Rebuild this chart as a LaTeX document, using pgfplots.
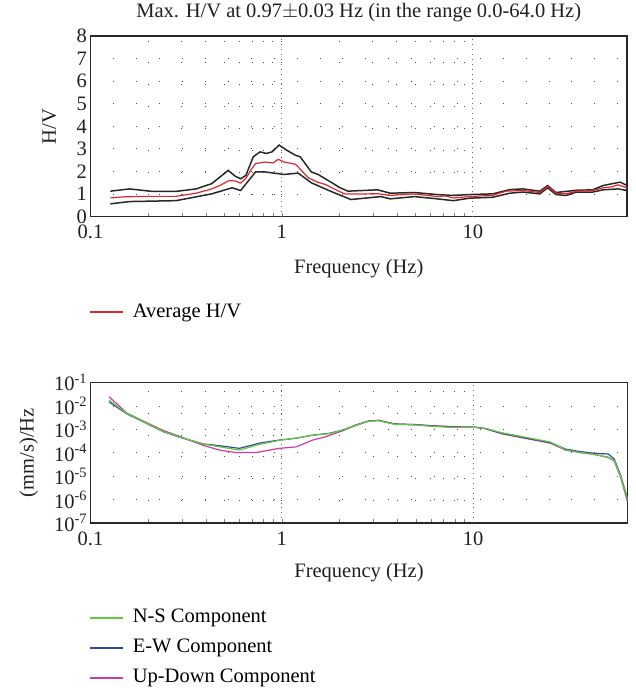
\documentclass[border=0pt]{standalone}
\usepackage{fontspec}
\setmainfont{Liberation Serif}
\usepackage{pgfplots}
\pgfplotsset{compat=1.18}
\definecolor{txt}{RGB}{35,31,32}
\definecolor{hvred}{RGB}{222,40,45}
\definecolor{hvblk}{RGB}{40,40,40}
\definecolor{nsgreen}{RGB}{100,200,60}
\definecolor{ewblue}{RGB}{45,75,160}
\definecolor{udpink}{RGB}{205,60,165}
\pgfplotsset{legend image code/.code={\draw[#1] (0pt,0pt) -- (33pt,0pt);}}
\begin{document}
\begin{tikzpicture}[font=\fontsize{20.5}{24}\selectfont]
\path (0pt,0pt) rectangle (635pt,688pt);
\begin{axis}[
  scale only axis,
  xmode=log, xmin=0.1, xmax=64,
  xtick={0.1,1,10}, xticklabels={0.1,1,10},
  tick label style={font=\fontsize{20.5}{24}\selectfont, text=txt},
  label style={font=\fontsize{20.5}{24}\selectfont, text=txt},
  axis line style={line width=1.3pt, color=hvblk},
  tick align=inside, xtick pos=left, ytick pos=left,
  major tick length=0pt, minor tick length=4pt,
  xmajorgrids=false, xminorgrids=true, ymajorgrids=true,
  minor grid style={dash pattern=on 0.9pt off 21pt, black!70, line width=0.9pt},
  major grid style={dash pattern=on 0.9pt off 22pt, black!70, line width=0.9pt},
  extra x ticks={1,10}, extra x tick labels={},
  extra x tick style={grid=major, major grid style={dash pattern=on 0.9pt off 4pt, black!60, line width=0.9pt}},
  xticklabel style={yshift=-5pt, inner xsep=1pt},
  yticklabel style={inner ysep=1pt},
  legend cell align=left,
  at={(90.5pt,471.3pt)}, anchor=south west,
  width=536.5pt, height=180.7pt,
  ymin=0, ymax=8, ytick={0,1,2,3,4,5,6,7,8}, yticklabels={0,1,2,3,4,5,6,7,8},
  title={Max. H/V at 0.97$\pm$0.03 Hz (in the range 0.0-64.0 Hz)},
  title style={at={(axis description cs:0.5,1.095)}, anchor=center, inner ysep=1pt, font=\fontsize{20.5}{24}\selectfont, text=txt},
  xlabel={Frequency (Hz)},
  xlabel style={at={(axis description cs:0.5,-0.289)}, anchor=center},
  ylabel={H/V},
  ylabel style={at={(axis description cs:-0.077,0.5)}, anchor=center},
  legend style={at={(axis description cs:-0.002,-0.527)}, anchor=west, draw=none, fill=none, inner sep=0pt,
    column sep=8pt,
    nodes={inner xsep=1pt, inner ysep=2pt, font=\fontsize{20.5}{24}\selectfont}},
]
\addplot[hvblk, line width=1.5pt, forget plot] coordinates {
(0.127,1.13) (0.16,1.23) (0.21,1.12) (0.28,1.12) (0.357,1.23) (0.43,1.46) (0.525,2.05) (0.57,1.80)
(0.61,1.68) (0.65,1.83) (0.71,2.65) (0.77,2.87) (0.83,2.80) (0.89,2.87) (0.97,3.17) (1.06,2.95)
(1.18,2.72) (1.25,2.65) (1.43,1.98) (1.55,1.87) (1.81,1.53) (2.0,1.30) (2.22,1.13) (3.17,1.19)
(3.7,1.04) (4.95,1.07) (6.5,0.98) (7.9,0.94) (9.6,0.98) (12.7,1.01) (15.6,1.20) (18.3,1.23)
(22.4,1.13) (24.6,1.38) (27.2,1.07) (34.7,1.17) (42.4,1.19) (47.9,1.38) (59,1.53) (64,1.38)};
\addplot[hvblk, line width=1.5pt, forget plot] coordinates {
(0.127,0.57) (0.16,0.67) (0.28,0.71) (0.43,1.01) (0.55,1.28) (0.61,1.16) (0.73,1.98) (0.82,1.98)
(1.03,1.87) (1.22,1.93) (1.43,1.50) (1.81,1.12) (2.3,0.76) (3.3,0.89) (3.7,0.79) (4.95,0.89)
(6.5,0.79) (7.9,0.71) (9.6,0.82) (12.7,0.86) (15.6,1.04) (18.3,1.09) (22.4,1.01) (24.6,1.28)
(27.2,0.98) (30.7,0.94) (34.7,1.09) (42.4,1.09) (47.9,1.19) (57.5,1.23) (64,1.16)};
\addplot[color=hvred, line width=1.2pt] coordinates {
(0.127,0.83) (0.15,0.88) (0.2,0.90) (0.28,0.90) (0.357,1.04) (0.43,1.23) (0.48,1.40) (0.53,1.60)
(0.57,1.58) (0.61,1.49) (0.65,1.70) (0.70,2.15) (0.73,2.35) (0.82,2.42) (0.90,2.38) (0.96,2.54)
(1.03,2.42) (1.12,2.36) (1.18,2.32) (1.22,2.20) (1.30,1.95) (1.38,1.72) (1.55,1.52) (1.70,1.42)
(1.81,1.30) (2.0,1.12) (2.14,1.01) (2.5,1.00) (3.17,1.02) (3.7,0.94) (4.3,0.98) (4.95,1.01)
(5.7,0.95) (6.5,0.89) (7.2,0.92) (7.9,0.83) (8.7,0.86) (9.6,0.89) (11,0.92) (12.7,0.94)
(14.9,1.13) (18.3,1.16) (22.4,1.07) (24.6,1.34) (27.2,1.04) (30.7,1.01) (34.7,1.13) (42.4,1.16)
(47.9,1.28) (53,1.32) (57.5,1.41) (64,1.28)};
\addlegendentry{Average H/V}
\end{axis}
\begin{axis}[
  scale only axis,
  xmode=log, xmin=0.1, xmax=64,
  xtick={0.1,1,10}, xticklabels={0.1,1,10},
  tick label style={font=\fontsize{20.5}{24}\selectfont, text=txt},
  label style={font=\fontsize{20.5}{24}\selectfont, text=txt},
  axis line style={line width=1.3pt, color=hvblk},
  tick align=inside, xtick pos=left, ytick pos=left,
  major tick length=0pt, minor tick length=4pt,
  xmajorgrids=false, xminorgrids=true, ymajorgrids=true,
  minor grid style={dash pattern=on 0.9pt off 21pt, black!70, line width=0.9pt},
  major grid style={dash pattern=on 0.9pt off 22pt, black!70, line width=0.9pt},
  extra x ticks={1,10}, extra x tick labels={},
  extra x tick style={grid=major, major grid style={dash pattern=on 0.9pt off 4pt, black!60, line width=0.9pt}},
  xticklabel style={yshift=-5pt, inner xsep=1pt},
  yticklabel style={inner ysep=1pt},
  legend cell align=left,
  reverse legend,
  at={(90.5pt,165pt)}, anchor=south west,
  width=537pt, height=140.4pt,
  ymode=log, ymin=1e-7, ymax=1e-1,
  ytick={1e-7,1e-6,1e-5,1e-4,1e-3,1e-2,1e-1},
  yticklabels={10\textsuperscript{-7},10\textsuperscript{-6},10\textsuperscript{-5},10\textsuperscript{-4},10\textsuperscript{-3},10\textsuperscript{-2},10\textsuperscript{-1}},
  yminorticks=false, yminorgrids=false,
  xlabel={Frequency (Hz)},
  xlabel style={at={(axis description cs:0.5,-0.356)}, anchor=center},
  ylabel={(mm/s)/Hz},
  ylabel style={at={(axis description cs:-0.115,0.5)}, anchor=center},
  legend style={at={(axis description cs:-0.002,-0.89)}, anchor=west, draw=none, fill=none, inner sep=0pt,
    row sep=11pt, column sep=8pt,
    nodes={inner xsep=1pt, inner ysep=0pt, text height=14pt, text depth=5pt, font=\fontsize{20.5}{24}\selectfont}},
]
\addplot[color=udpink, line width=1.2pt] coordinates {
(0.125,2.5e-2) (0.155,5e-3) (0.181,2.7e-3) (0.24,9e-4) (0.293,5e-4) (0.387,2.1e-4) (0.473,1.3e-4)
(0.58,1.02e-4) (0.73,1.02e-4) (0.97,1.55e-4) (1.19,1.8e-4) (1.45,3.5e-4) (1.7,4.9e-4) (2.08,8.7e-4)
(2.44,1.5e-3) (2.85,2.3e-3) (3.2,2.45e-3) (3.9,1.7e-3) (5.0,1.6e-3) (6.1,1.45e-3) (8.1,1.3e-3)
(10.2,1.25e-3) (11.6,1.05e-3) (14.1,6.5e-4) (18,4.4e-4) (25.3,2.6e-4) (30.3,1.3e-4) (35.5,1.05e-4)
(43,8.5e-5) (50.7,6.3e-5) (54.5,4.5e-5) (58.9,9e-6) (64,8e-7)};
\addlegendentry{Up-Down Component}
\addplot[color=ewblue, line width=1.2pt] coordinates {
(0.125,1.5e-2) (0.155,4.6e-3) (0.181,2.5e-3) (0.24,8e-4) (0.293,4.6e-4) (0.387,2.4e-4) (0.473,2.0e-4)
(0.60,1.55e-4) (0.765,2.6e-4) (0.97,3.5e-4) (1.19,4.2e-4) (1.45,5.7e-4) (1.77,6.8e-4) (2.08,9.3e-4)
(2.44,1.55e-3) (2.85,2.3e-3) (3.2,2.4e-3) (3.9,1.7e-3) (5.0,1.6e-3) (6.1,1.4e-3) (8.1,1.25e-3)
(10.2,1.25e-3) (11.6,1.1e-3) (14.1,6.8e-4) (18,4.6e-4) (25.3,2.7e-4) (30.3,1.45e-4) (35.5,1.15e-4)
(43,9.5e-5) (50.7,8.9e-5) (54.5,5.5e-5) (58.9,1.1e-5) (64,1.1e-6)};
\addlegendentry{E-W Component}
\addplot[color=nsgreen, line width=1.2pt] coordinates {
(0.125,1.8e-2) (0.155,4.8e-3) (0.181,2.6e-3) (0.24,8.2e-4) (0.293,4.7e-4) (0.387,2.4e-4) (0.473,1.8e-4)
(0.60,1.3e-4) (0.765,2.3e-4) (0.97,3.4e-4) (1.19,4.3e-4) (1.45,5.6e-4) (1.77,6.6e-4) (2.08,9.2e-4)
(2.44,1.5e-3) (2.85,2.25e-3) (3.2,2.35e-3) (3.9,1.65e-3) (5.0,1.55e-3) (6.1,1.35e-3) (8.1,1.2e-3)
(10.2,1.2e-3) (11.6,1.1e-3) (14.1,7.2e-4) (18,4.9e-4) (25.3,2.9e-4) (30.3,1.35e-4) (35.5,1.05e-4)
(43,8.5e-5) (50.7,6.6e-5) (54.5,4.8e-5) (58.9,1e-5) (64,1e-6)};
\addlegendentry{N-S Component}
\end{axis}
\end{tikzpicture}
\end{document}
